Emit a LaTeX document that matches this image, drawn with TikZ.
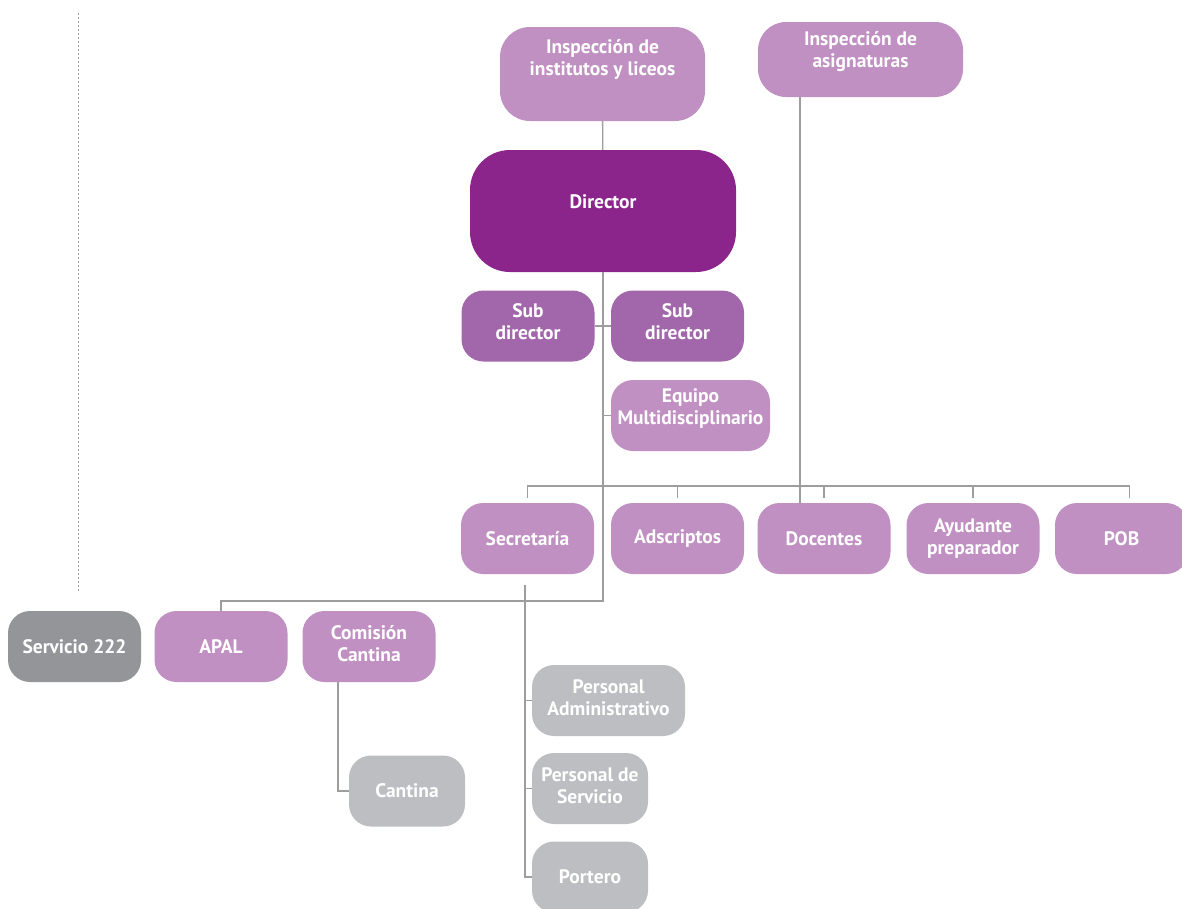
\documentclass[tikz,border=0pt]{standalone}
\usepackage{fontspec}
\setmainfont{PT Sans}
\definecolor{lila}{HTML}{BF90C1}
\definecolor{malva}{HTML}{A167AA}
\definecolor{morado}{HTML}{8B258C}
\definecolor{grisc}{HTML}{BDBEC1}
\definecolor{griso}{HTML}{939598}
\definecolor{linea}{HTML}{9D9D9D}
\begin{document}
\begin{tikzpicture}[x=1pt,y=-1pt,
	texto/.style={text=white,align=center,font=\bfseries\fontsize{19.5}{22}\selectfont},
	caja/.style={texto,fill=#1,rounded corners=22pt,minimum width=133pt,minimum height=71pt,inner sep=1pt},
	conector/.style={draw=linea,line width=1.4pt}]
		\useasboundingbox (0,0) rectangle (1182,908);
		\def\fila{538.5}%Altura de la fila
		\def\bus{486}%Línea horizontal
		\draw[linea,line width=1pt,dash pattern=on 2pt off 2pt] (78,13)--(78,593);
		\node[caja=lila,minimum width=205pt,minimum height=94pt,rounded corners=30pt,
			label={[texto,yshift=15pt]center:{Inspección de\\institutos y liceos}}] (inst) at (602.5,74) {};
		\node[caja=lila,minimum width=205pt,minimum height=75pt,rounded corners=28pt,
			label={[texto,yshift=8pt]center:{Inspección de\\asignaturas}}] (asig) at (860.5,59.5) {};
		\node[caja=morado,minimum width=266pt,minimum height=122pt,rounded corners=40pt,
			label={[texto,yshift=9pt]center:Director}] (dir) at (603,211) {};
		\node[caja=malva,label={[texto,yshift=4pt]center:{Sub\\director}}] (sub1) at (528,326) {};
		\node[caja=malva,label={[texto,yshift=4pt]center:{Sub\\director}}] (sub2) at (677.5,326) {};
		\node[caja=lila,minimum width=159pt,label={[texto,yshift=7pt]center:{Equipo\\Multidisciplinario}}] (equipo) at (690.5,415.5) {};
		\foreach \n/\x/\t in {secre/527.5/Secretaría,adsc/677.5/Adscriptos,doc/824/Docentes,
			ayud/973/{Ayudante\\preparador},pob/1121.5/POB}
			\node[caja=lila] (\n) at (\x,\fila) {\t};
		\node[caja=griso] (serv) at (74.5,646.5) {Servicio 222};
		\node[caja=lila] (apal) at (221,646.5) {APAL};
		\node[caja=lila,label={[texto,yshift=3pt]center:{Comisión\\Cantina}}] (comis) at (369,646.5) {};
		\node[caja=grisc,minimum width=153pt,label={[texto,yshift=3pt]center:{Personal\\Administrativo}}] (padm) at (608.5,700.5) {};
		\node[caja=grisc,minimum width=116pt] (cant) at (407,791) {Cantina};
		\node[caja=grisc,minimum width=116pt,label={[texto,yshift=3pt]center:{Personal de\\Servicio}}] (pserv) at (590,788.5) {};
		\node[caja=grisc,minimum width=116pt] (port) at (590,877) {Portero};
		\coordinate (nudo) at (603,601);
		\coordinate (eje) at (800,0);
		\draw[conector] (inst)--(dir);
		\draw[conector] (dir.south)--(nudo)-|(apal.north);
		\draw[conector] (sub1.east)--(sub2.west);
		\draw[conector] (equipo.west)--(equipo.west-|nudo);
		\draw[conector] ([yshift=5pt]secre.north)|-([xshift=8pt,yshift=17pt]pob.north)--++(0,12);
		\foreach \n in {adsc,doc,ayud}
			\draw[conector] ([yshift=5pt]\n.north)--++(0,-12);
		\draw[conector] (asig.south-|eje)--(doc.north-|eje);
		\draw[conector] ([xshift=-2.5pt,yshift=-11pt]secre.south)|-(port.west);
		\foreach \n in {padm,pserv}
			\draw[conector] (\n.west)--++(-7,0);
		\draw[conector] ([xshift=-31pt]comis.south)|-(cant.west);
\end{tikzpicture}
\end{document}
